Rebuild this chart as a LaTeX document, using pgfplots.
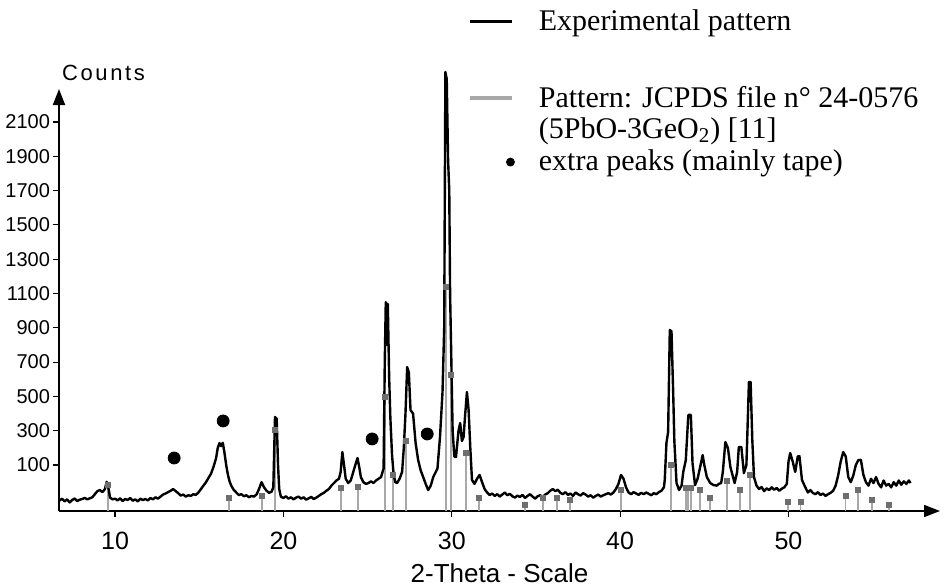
\documentclass[border=0pt]{standalone}
\usepackage{fontspec}
\setmainfont{Liberation Serif}
\setsansfont{Liberation Sans}
\usepackage{pgfplots}
\usepackage{pgfplotstable}
\pgfplotsset{compat=1.18}
\usetikzlibrary{arrows.meta}
\definecolor{refgray}{HTML}{A8A8A8}
\definecolor{markgray}{HTML}{6E6E6E}

% experimental pattern (2theta, counts)
\pgfplotstableread{
tt cnt
6.70 -108
6.85 -96
7.00 -112
7.15 -100
7.30 -118
7.45 -104
7.60 -95
7.75 -110
7.90 -102
8.05 -98
8.20 -92
8.35 -100
8.50 -94
8.65 -88
8.80 -70
8.95 -52
9.10 -46
9.25 -58
9.40 -40
9.50 2
9.60 -30
9.70 -90
9.85 -100
10.00 -96
10.15 -106
10.30 -94
10.45 -110
10.60 -98
10.75 -104
10.90 -92
11.05 -108
11.20 -100
11.35 -112
11.50 -96
11.65 -104
11.80 -98
11.95 -106
12.10 -92
12.25 -100
12.40 -88
12.55 -96
12.70 -84
12.85 -72
13.00 -66
13.15 -58
13.30 -50
13.45 -40
13.60 -52
13.75 -64
13.90 -78
14.05 -72
14.20 -84
14.35 -76
14.50 -80
14.65 -70
14.80 -74
14.95 -60
15.10 -40
15.25 -20
15.40 0
15.55 25
15.70 50
15.85 90
16.00 140
16.10 200
16.20 228
16.30 210
16.40 230
16.50 170
16.60 100
16.70 45
16.80 5
16.90 -20
17.05 -45
17.20 -60
17.35 -75
17.50 -70
17.65 -82
17.80 -76
17.95 -88
18.10 -80
18.25 -84
18.40 -72
18.55 -40
18.70 0
18.85 -30
19.00 -50
19.15 -62
19.30 -55
19.40 -30
19.50 380
19.60 370
19.68 100
19.75 -40
19.85 -85
20.00 -92
20.15 -82
20.30 -96
20.45 -88
20.60 -100
20.75 -90
20.90 -84
21.05 -96
21.20 -88
21.35 -102
21.50 -94
21.65 -86
21.80 -98
21.95 -90
22.10 -80
22.25 -70
22.40 -62
22.55 -50
22.70 -40
22.85 -20
23.00 -5
23.15 10
23.30 20
23.40 60
23.50 176
23.60 100
23.70 20
23.85 -5
24.00 10
24.15 60
24.30 110
24.40 141
24.50 90
24.60 30
24.75 0
24.90 -10
25.05 -5
25.20 5
25.35 -5
25.50 10
25.65 20
25.80 30
25.95 80
26.02 700
26.08 1050
26.14 800
26.20 1040
26.28 613
26.35 380
26.45 160
26.55 40
26.65 0
26.75 -5
26.90 20
27.05 60
27.15 200
27.25 400
27.35 671
27.45 640
27.55 420
27.70 400
27.85 230
28.00 130
28.15 70
28.30 30
28.45 -10
28.60 -46
28.75 -20
28.90 30
29.05 60
29.15 80
29.30 263
29.45 526
29.55 900
29.62 2391
29.70 2350
29.78 1878
29.85 1700
29.90 1100
29.97 730
30.05 300
30.15 150
30.25 147
30.40 300
30.50 345
30.60 240
30.70 263
30.80 400
30.90 526
31.00 420
31.10 200
31.20 13
31.35 -10
31.50 20
31.65 42
31.80 0
31.95 -40
32.10 -60
32.25 -75
32.40 -66
32.55 -80
32.70 -70
32.85 -84
33.00 -72
33.15 -60
33.30 -76
33.45 -68
33.60 -82
33.75 -90
33.90 -78
34.05 -86
34.20 -74
34.35 -92
34.50 -80
34.65 -70
34.80 -84
34.95 -96
35.10 -82
35.25 -76
35.40 -88
35.55 -72
35.70 -64
35.85 -50
36.00 -40
36.15 -52
36.30 -44
36.45 -62
36.60 -70
36.75 -58
36.90 -74
37.05 -66
37.20 -80
37.35 -60
37.50 -70
37.65 -78
37.80 -64
37.95 -72
38.10 -84
38.25 -76
38.40 -90
38.55 -80
38.70 -72
38.85 -84
39.00 -76
39.15 -70
39.30 -64
39.45 -72
39.60 -60
39.75 -40
39.90 -10
40.05 42
40.20 20
40.35 -30
40.50 -60
40.65 -70
40.80 -58
40.95 -66
41.10 -74
41.25 -62
41.40 -70
41.55 -60
41.70 -68
41.85 -76
42.00 -64
42.15 -70
42.30 -58
42.45 -50
42.60 -30
42.65 13
42.75 228
42.85 292
42.95 887
43.05 880
43.15 526
43.22 240
43.35 -5
43.50 -46
43.65 -20
43.75 60
43.90 129
44.05 392
44.20 392
44.30 110
44.45 -17
44.60 20
44.80 110
44.90 158
45.00 100
45.15 30
45.35 -5
45.55 -17
45.75 -20
45.85 -10
46.00 -5
46.10 60
46.25 234
46.40 200
46.55 88
46.80 -5
46.95 60
47.05 205
47.20 205
47.35 53
47.50 100
47.65 584
47.75 584
47.85 246
47.95 30
48.10 -20
48.25 -40
48.40 -28
48.55 -52
48.70 -36
48.85 -46
49.00 -30
49.15 -44
49.30 -34
49.45 -50
49.60 -38
49.75 -30
49.90 -10
50.00 120
50.10 170
50.25 120
50.40 60
50.55 150
50.65 152
50.80 13
51.00 -30
51.15 -60
51.30 -46
51.45 -63
51.60 -70
51.75 -58
51.90 -75
52.05 -66
52.20 -80
52.35 -70
52.50 -62
52.65 -50
52.80 -20
52.95 40
53.10 120
53.25 176
53.40 150
53.55 30
53.70 0
53.85 40
54.00 100
54.15 129
54.30 130
54.45 42
54.60 0
54.75 -20
54.90 20
55.05 -5
55.20 30
55.35 -10
55.50 -30
55.65 10
55.80 -20
55.95 -10
56.10 -30
56.25 0
56.40 -20
56.55 10
56.70 -15
56.85 5
57.00 -10
57.15 10
57.25 -5
}\expdata

% JCPDS 24-0576 reference lines (2theta, top of stick)
\pgfplotstableread{
tt top
9.58 -17
16.77 -92
18.73 -81
19.51 304
23.43 -34
24.44 -28
26.04 496
26.52 42
27.29 240
29.67 1138
29.96 625
30.86 170
31.63 -92
34.36 -133
35.43 -92
36.26 -92
37.04 -104
40.07 -46
43.04 100
43.93 -34
44.05 -34
44.22 -34
44.76 -46
45.35 -92
46.36 7
47.14 -46
47.73 42
49.99 -116
50.71 -116
53.38 -81
54.15 -46
54.98 -104
55.99 -133
}\refpat

\begin{document}
\begin{tikzpicture}
\begin{axis}[
  at={(0,0)}, anchor=south west,
  scale only axis, width=440.5pt, height=211pt,
  xmin=6.67, xmax=59.0, ymin=-168, ymax=2292,
  axis lines=left,
  axis line style={line width=0.9pt, -{Triangle[length=8pt,width=6pt]}},
  clip=false,
  xtick={10,20,30,40,50},
  ytick={100,300,...,2100},
  tick align=outside, major tick length=3pt,
  tick style={black, line width=0.6pt},
  /pgf/number format/1000 sep={},
  /pgf/number format/assume math mode=true,
  yticklabel style={font=\sffamily\fontsize{10}{12}\selectfont, xshift=2pt},
  xticklabel style={font=\sffamily\fontsize{12.5}{14}\selectfont, yshift=-4pt},
  xlabel={2-Theta - Scale},
  xlabel style={font=\sffamily\fontsize{13}{15}\selectfont, at={(axis description cs:0.5,0)}, anchor=center, yshift=-31pt},
  ylabel={Counts},
  every axis y label/.style={at={(axis description cs:0,1)}, anchor=west, yshift=8pt, xshift=-2pt,
    font=\sffamily\fontsize{11}{13}\selectfont\addfontfeatures{LetterSpace=12}},
  legend style={at={(axis description cs:0.4643,1.19)}, anchor=north west, draw=none, fill=none,
    inner sep=0pt, row sep=4.5pt, column sep=12pt,
    font=\fontsize{15}{15.5}\selectfont,
    nodes={inner sep=0pt, align=left}},
  legend cell align=left,
]
% reference sticks, then measured curve, then stick markers
\addplot[forget plot, draw=none, mark=none,
  error bars/.cd, y dir=minus, y explicit,
  error bar style={refgray, line width=0.9pt}, error mark=none]
  table[x=tt, y=top, y error expr=\thisrow{top}+168] {\refpat};
\addplot[forget plot, black, line width=1.2pt, line join=round] table[x=tt, y=cnt] {\expdata};
\addplot[forget plot, only marks, mark=square*, mark size=1.25pt, markgray] table[x=tt, y=top] {\refpat};
% extra peaks (tape)
\addplot[forget plot, only marks, mark=*, mark size=3pt, black]
  coordinates {(13.51,141) (16.42,357) (25.27,252) (28.54,281)};

\addlegendimage{legend image code/.code={\draw[black, line width=1.5pt] (0pt,0pt) -- (21pt,0pt);}}
\addlegendentry{Experimental pattern}
\addlegendimage{empty legend}
\addlegendentry{\rule{0pt}{16pt}}
\addlegendimage{legend image code/.code={\draw[refgray, line width=2pt] (0pt,7.75pt) -- (21pt,7.75pt);}}
\addlegendentry{Pattern: JCPDS file n° 24-0576\\(5PbO-3GeO\textsubscript{2}) [11]}
\addlegendimage{legend image code/.code={\fill[black] (20pt,0pt) circle (2pt);}}
\addlegendentry{extra peaks (mainly tape)}
\end{axis}
\pgfresetboundingbox
\useasboundingbox (-29.5pt,-37pt) rectangle (443.5pt,255.5pt);
\end{tikzpicture}
\end{document}
